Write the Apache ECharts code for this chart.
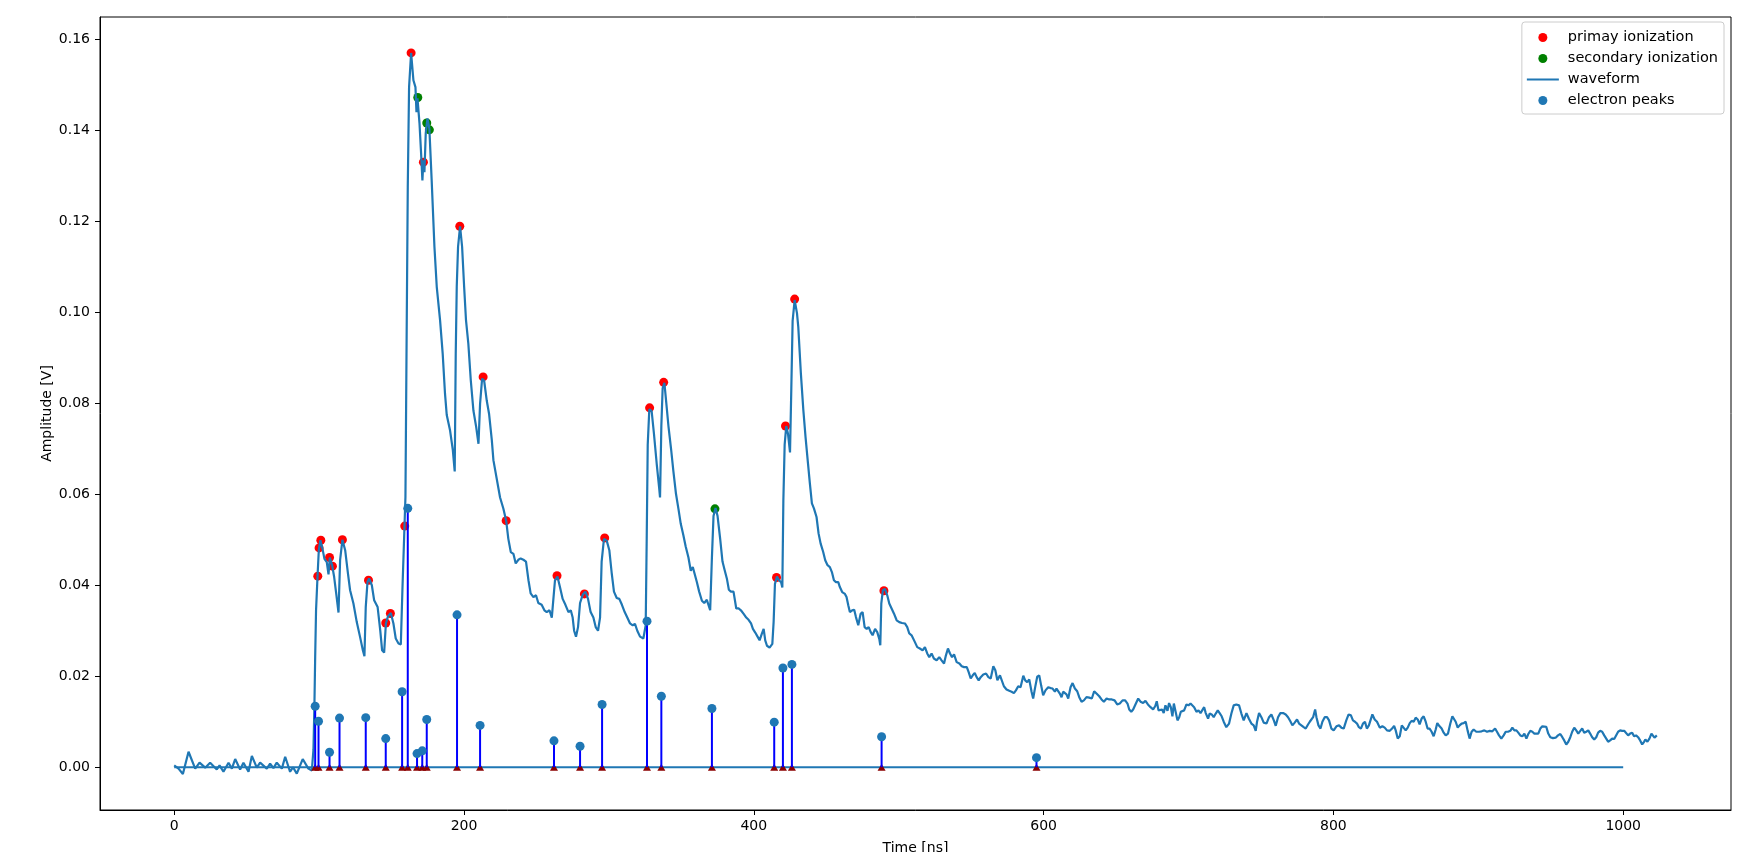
<!DOCTYPE html>
<html>
<head>
<meta charset="utf-8">
<script src="https://cdn.jsdelivr.net/npm/echarts@6.0.0/dist/echarts.min.js"></script>
<style>
html,body{margin:0;padding:0;background:#fff;}
#chart{width:1737px;height:852px;}
</style>
</head>
<body>
<div id="chart"></div>
<script>
// ---------------- DATA ----------------
const wfTime = [
0,3,6.0,9.9,14.5,17.5,21.4,24.8,29.4,31.3,34.0,37.5,39.8,42.1,45.5,47.8,51.3,53.6,57.0,59.3,63.9,66.2,68.5,70.8,74.3,76.6,80.0,82.0,84.6,88.7,92.6,
95.0,96.1,96.8,97.3,97.9,98.9,99.8,100.9,102.3,103.7,105.3,106.5,107.4,109.0,110.4,111.8,113.4,114.5,116.1,118.0,119.8,121.4,123.7,126.0,128.3,130.2,131.3,132.2,133.4,134.5,136.4,138.0,140.4,142.2,143.5,144.9,146.1,147.6,149.5,151.3,152.9,154.8,156.4,157.5,158.7,159.6,
160.5,161.2,162.1,163.5,165.1,166.5,167.2,167.9,169.3,170.4,171.3,172.0,172.7,173.6,174.8,176.1,177.7,179.6,181.2,183.5,185.3,186.9,188.1,190.4,192.3,193.6,194.3,195.0,195.9,197.3,198.7,200.1,201.4,203.0,204.7,206.5,208.4,210.0,211.1,212.5,213.9,215.7,217.3,219.2,220.3,
224.9,227.2,229.1,230.6,232.3,234.1,235.7,237.5,239.1,241.0,242.8,244.5,246.0,247.9,249.7,251.3,253.6,255.5,257.1,259.0,260.6,261.7,262.8,264.5,266.3,268.1,270.0,272.1,273.7,275.0,276.0,277.3,278.7,280.1,281.9,283.8,285.6,287.4,289.3,290.9,292.5,293.9,295.0,296.6,298.5,300.3,301.9,303.5,305.4,307.2,309.0,310.9,312.7,314.6,316.4,318.0,319.6,321.5,323.8,325.4,326.1,326.8,327.9,329.5,331.1,333.0,334.6,335.3,336.2,337.1,338.3,339.4,341.1,342.9,344.5,346.3,348.0,349.6,351.4,353.0,354.9,356.5,357.9,359.0,360.7,362.3,364.2,365.8,367.6,368.8,369.9,371.1,372.2,373.6,375.0,376.8,378.4,380.0,381.4,382.8,384.2,386.0,387.9,389.5,391.1,393.0,394.8,396.4,398.1,399.4,401.0,402.6,404.0,405.4,406.8,407.9,409.1,410.9,412.8,413.7,414.6,416.0,417.4,418.8,419.7,420.4,421.3,422.4,423.6,425.0,425.9,426.8,428.2,429.8,
430.7,432.5,434.2,435.7,437.4,438.7,440.1,441.5,443.3,444.7,446.1,447.9,449.3,450.9,452.5,453.9,455.3,456.7,458.3,459.4,461.0,462.9,464.0,465.2,466.3,467.9,469.3,470.5,472.1,473.7,475.1,476.5,477.9,479.3,480.7,482.0,483.7,485.2,486.6,487.3,488.0,489.1,490.5,492.1,493.5,495.1,496.7,498.6,500.4,502.3,504.3,505.9,507.3,508.9,510.1,511.2,512.8,514.6,516.5,518.1,519.7,521.1,522.7,524.3,526.2,528.0,529.6,531.3,532.6,534.0,535.4,536.8,538.2,540.0,541.9,543.5,545.1,547.0,548.3,549.7,551.1,552.5,553.8,555.2,556.6,558.4,560.3,561.9,563.5,565.3,566.7,568.1,569.9,
571.0,572.6,574.4,576.3,577.9,579.5,580.9,582.5,584.1,586.0,587.3,588.7,590.1,591.7,592.8,594.2,595.6,597.0,598.3,599.7,601.3,603.2,604.8,606.2,607.8,608.9,610.1,611.2,612.4,613.5,614.7,615.8,617.0,618.6,620.0,621.6,623.2,624.6,626.2,627.8,629.6,631.5,633.3,634.9,636.5,638.4,640.0,641.6,643.5,645.3,647.1,649.0,650.8,652.6,654.5,656.3,657.9,659.1,660.5,661.8,663.7,665.3,666.9,668.7,670.3,672.0,673.8,675.6,677.0,678.1,679.3,680.6,681.8,682.9,684.1,685.5,686.6,687.8,688.9,689.9,691.0,692.4,693.6,694.7,695.9,697.0,698.6,700.0,701.4,702.7,703.9,705.5,706.9,708.3,709.6,710.8,711.9,713.5,714.6,716.0,717.4,718.8,720.2,721.5,722.9,724.3,726.1,728.0,729.6,731.2,733.0,734.9,736.5,738.1,740.0,741.6,743.4,745.0,746.4,747.3,748.7,750.3,751.9,753.8,755.6,757.2,758.9,760.2,761.8,763.4,765.3,767.1,768.7,770.3,771.7,773.3,774.9,776.3,777.9,779.5,780.9,782.5,783.7,784.8,786.0,787.4,788.3,789.7,791.1,792.4,794.0,795.6,797.0,798.6,800.2,802.1,803.9,805.5,807.1,808.9,810.5,812.1,813.5,814.9,816.3,817.6,819.0,820.4,821.8,823.1,824.5,
826.9,828.5,830.1,832.0,833.8,835.4,837.0,838.9,840.5,841.9,843.0,844.4,845.8,847.2,848.5,849.9,851.3,852.7,854.0,855.4,856.8,858.2,859.5,860.9,862.3,863.7,865.0,866.4,867.8,869.2,870.6,871.7,873.3,874.7,876.1,877.5,879.1,880.7,882.1,883.2,884.4,885.8,887.1,888.5,889.9,891.3,892.6,894.0,895.4,896.8,898.6,900.5,902.3,904.2,906.0,907.9,909.7,911.6,912.9,914.3,915.9,917.5,918.9,920.5,922.1,923.5,924.9,926.3,927.6,929.0,930.4,931.8,933.2,934.5,935.9,937.3,938.7,940.0,941.4,942.8,944.2,945.5,946.9,948.3,949.7,951.5,953.4,955.0,956.6,958.0,959.3,960.7,962.1,963.5,964.8,966.2,967.6,969.0,970.4,971.7,973.1,974.5,975.9,977.2,978.6,980.0,981.4,982.7,984.1,985.5,986.9,988.3,989.6,991.0,992.4,993.8,995.1,996.5,997.9,999.3,1000.7,1002.0,1003.4,1004.8,1006.2,1007.5,1008.9,1010.3,1011.7,1013.1,1014.4,1015.3,1016.7,1018.1,1019.5,1020.4,1021.6,1023.2
];
const wfAmp = [
0.0004,-0.0003,-0.0015,0.0034,-0.0003,0.0010,-0.0001,0.0010,-0.0005,0.0004,-0.0010,0.0010,-0.0003,0.0018,-0.0005,0.0010,-0.0010,0.0025,-0.0001,0.0010,-0.0003,0.0008,-0.0002,0.0010,-0.0003,0.0023,-0.0010,0.0000,-0.0014,0.0018,-0.0003,
-0.0007,0.0038,0.0140,0.0242,0.0345,0.0418,0.0477,0.0499,0.0481,0.0458,0.0451,0.0424,0.0461,0.0444,0.0418,0.0382,0.0340,0.0455,0.0500,0.0477,0.0429,0.0389,0.0360,0.0319,0.0286,0.0257,0.0244,0.0352,0.0407,0.0415,0.0400,0.0367,0.0352,0.0301,0.0257,0.0252,0.0316,0.0332,0.0339,0.0316,0.0283,0.0272,0.0270,0.0389,0.0506,0.0594,
0.0982,0.1275,0.1495,0.1570,0.1510,0.1495,0.1440,0.1470,0.1415,0.1349,0.1290,0.1334,0.1308,0.1393,0.1426,0.1404,0.1290,0.1144,0.1056,0.0982,0.0909,0.0821,0.0774,0.0740,0.0697,0.0650,0.0909,0.1056,0.1144,0.1189,0.1144,0.1056,0.0982,0.0931,0.0850,0.0784,0.0748,0.0711,0.0799,0.0854,0.0850,0.0806,0.0777,0.0719,0.0675,
0.0593,0.0568,0.0542,0.0502,0.0473,0.0469,0.0448,0.0456,0.0459,0.0456,0.0452,0.0411,0.0382,0.0374,0.0378,0.0361,0.0357,0.0345,0.0341,0.0345,0.0329,0.0370,0.0411,0.0419,0.0395,0.0370,0.0357,0.0341,0.0345,0.0329,0.0300,0.0287,0.0308,0.0361,0.0379,0.0386,0.0370,0.0341,0.0329,0.0308,0.0300,0.0329,0.0452,0.0502,0.0498,0.0477,0.0428,0.0386,0.0372,0.0370,0.0357,0.0341,0.0329,0.0316,0.0312,0.0315,0.0300,0.0287,0.0283,0.0312,0.0502,0.0709,0.0787,0.0783,0.0733,0.0667,0.0617,0.0593,0.0750,0.0833,0.0845,0.0808,0.0750,0.0700,0.0651,0.0601,0.0568,0.0535,0.0510,0.0485,0.0461,0.0432,0.0440,0.0436,0.0407,0.0386,0.0366,0.0361,0.0368,0.0366,0.0345,0.0461,0.0552,0.0570,0.0552,0.0502,0.0452,0.0432,0.0415,0.0390,0.0386,0.0386,0.0349,0.0349,0.0345,0.0337,0.0329,0.0324,0.0316,0.0304,0.0296,0.0287,0.0279,0.0292,0.0304,0.0279,0.0267,0.0263,0.0271,0.0320,0.0403,0.0419,0.0411,0.0407,0.0395,0.0585,0.0709,0.0750,0.0733,0.0692,0.0833,0.0981,0.1027,0.0998,
0.0968,0.0865,0.0785,0.0726,0.0668,0.0624,0.0580,0.0569,0.0550,0.0514,0.0492,0.0473,0.0455,0.0444,0.0440,0.0429,0.0411,0.0407,0.0407,0.0396,0.0385,0.0381,0.0374,0.0356,0.0341,0.0345,0.0346,0.0330,0.0312,0.0337,0.0341,0.0308,0.0304,0.0308,0.0297,0.0290,0.0304,0.0297,0.0282,0.0268,0.0360,0.0389,0.0392,0.0378,0.0360,0.0349,0.0338,0.0323,0.0319,0.0317,0.0316,0.0308,0.0294,0.0290,0.0294,0.0275,0.0264,0.0261,0.0257,0.0264,0.0250,0.0242,0.0250,0.0239,0.0235,0.0242,0.0235,0.0228,0.0246,0.0261,0.0250,0.0242,0.0248,0.0231,0.0228,0.0222,0.0220,0.0220,0.0209,0.0195,0.0202,0.0207,0.0198,0.0191,0.0198,0.0204,0.0206,0.0198,0.0195,0.0222,0.0213,0.0191,0.0202,
0.0202,0.0178,0.0171,0.0168,0.0166,0.0163,0.0169,0.0178,0.0176,0.0201,0.0191,0.0187,0.0193,0.0166,0.0151,0.0176,0.0199,0.0202,0.0180,0.0158,0.0169,0.0176,0.0174,0.0173,0.0166,0.0173,0.0176,0.0162,0.0154,0.0166,0.0168,0.0160,0.0151,0.0176,0.0185,0.0173,0.0167,0.0154,0.0144,0.0147,0.0154,0.0153,0.0151,0.0167,0.0162,0.0156,0.0149,0.0144,0.0151,0.0149,0.0149,0.0147,0.0138,0.0140,0.0147,0.0147,0.0140,0.0127,0.0122,0.0127,0.0140,0.0151,0.0144,0.0141,0.0146,0.0138,0.0132,0.0127,0.0134,0.0145,0.0125,0.0122,0.0127,0.0119,0.0136,0.0124,0.0141,0.0132,0.0112,0.0140,0.0138,0.0103,0.0110,0.0122,0.0118,0.0125,0.0138,0.0136,0.0140,0.0141,0.0132,0.0122,0.0125,0.0119,0.0116,0.0132,0.0119,0.0107,0.0118,0.0116,0.0110,0.0118,0.0125,0.0119,0.0112,0.0100,0.0088,0.0096,0.0118,0.0136,0.0138,0.0136,0.0118,0.0103,0.0119,0.0107,0.0096,0.0092,0.0080,0.0100,0.0119,0.0110,0.0098,0.0096,0.0110,0.0116,0.0103,0.0091,0.0110,0.0119,0.0119,0.0116,0.0110,0.0101,0.0092,0.0098,0.0105,0.0096,0.0092,0.0088,0.0085,0.0094,0.0100,0.0098,0.0110,0.0127,0.0110,0.0092,0.0085,0.0100,0.0110,0.0110,0.0103,0.0085,0.0081,0.0090,0.0092,0.0087,0.0085,0.0103,0.0116,0.0114,0.0103,0.0100,0.0096,0.0088,0.0085,0.0096,0.0100,0.0085,0.0092,
0.0116,0.0105,0.0100,0.0087,0.0090,0.0087,0.0081,0.0080,0.0085,0.0091,0.0081,0.0063,0.0068,0.0092,0.0096,0.0081,0.0087,0.0097,0.0102,0.0100,0.0109,0.0105,0.0094,0.0107,0.0112,0.0100,0.0085,0.0085,0.0078,0.0068,0.0083,0.0097,0.0090,0.0085,0.0076,0.0070,0.0074,0.0096,0.0112,0.0116,0.0100,0.0087,0.0092,0.0096,0.0097,0.0100,0.0081,0.0063,0.0078,0.0083,0.0078,0.0078,0.0079,0.0081,0.0078,0.0080,0.0079,0.0085,0.0078,0.0070,0.0063,0.0070,0.0078,0.0078,0.0080,0.0087,0.0081,0.0081,0.0076,0.0070,0.0068,0.0074,0.0063,0.0073,0.0080,0.0078,0.0074,0.0070,0.0074,0.0085,0.0090,0.0092,0.0089,0.0074,0.0066,0.0064,0.0065,0.0070,0.0073,0.0066,0.0059,0.0050,0.0056,0.0066,0.0078,0.0087,0.0081,0.0074,0.0080,0.0085,0.0076,0.0078,0.0081,0.0074,0.0066,0.0061,0.0066,0.0076,0.0080,0.0078,0.0070,0.0063,0.0056,0.0059,0.0063,0.0062,0.0066,0.0078,0.0081,0.0080,0.0080,0.0076,0.0070,0.0074,0.0076,0.0068,0.0070,0.0066,0.0059,0.0050,0.0056,0.0061,0.0056,0.0063,0.0074,0.0070,0.0065,0.0070
];
const primaryTime = [99.1,100.0,101.2,107.2,109.2,116.1,134.1,146.0,149.2,159.1,163.5,172.0,197.1,213.2,229.1,264.2,283.1,297.1,328.1,337.8,415.7,421.9,428.2,489.8];
const primaryAmp  = [0.0420,0.0482,0.0499,0.0461,0.0442,0.0500,0.0411,0.0317,0.0338,0.0530,0.1570,0.1330,0.1189,0.0858,0.0542,0.0421,0.0381,0.0504,0.0790,0.0846,0.0417,0.0750,0.1029,0.0388];
const secondaryTime = [168.1,174.3,176.1,373.2];
const secondaryAmp  = [0.1472,0.1416,0.1401,0.0568];
const peakTime = [97.3,99.6,107.2,114.1,132.2,146.0,157.3,161.2,167.6,171.2,174.3,195.2,211.1,262.1,280.1,295.3,326.3,336.2,371.1,414.1,420.1,426.3,488.2,595.1];
const peakAmp  = [0.0134,0.0101,0.0033,0.0108,0.0109,0.0063,0.0166,0.0569,0.0030,0.0036,0.0105,0.0335,0.0092,0.0058,0.0046,0.0138,0.0321,0.0156,0.0129,0.0099,0.0218,0.0226,0.0067,0.0021];
const baselineRange = [0, 1000];
const xTicks = [0, 200, 400, 600, 800, 1000];
const yTicks = [0.00, 0.02, 0.04, 0.06, 0.08, 0.10, 0.12, 0.14, 0.16];

// ---------------- CHART ----------------
const zip = (a, b) => a.map((v, i) => [v, b[i]]);
const FONT = 'DejaVu Sans';
const chart = echarts.init(document.getElementById('chart'), null, {renderer: 'canvas'});
const option = {
  animation: false,
  backgroundColor: '#fff',
  textStyle: {fontFamily: FONT},
  grid: {left: 100, right: 6, top: 17, bottom: 42, containLabel: false, outerBoundsMode: 'none',
         show: true, borderColor: '#000', borderWidth: 1, backgroundColor: 'transparent'},
  legend: {
    orient: 'vertical', right: 13, top: 22,
    data: [
      {name: 'primay ionization'},
      {name: 'secondary ionization'},
      {name: 'waveform', icon: 'path://M0,0 L0.01,0 L0.01,0.01 Z M0,3.45 L32,3.45 L32,5.55 L0,5.55 Z M0,9 L0.01,9 L0.01,8.99 Z'},
      {name: 'electron peaks'}
    ],
    itemWidth: 32, itemHeight: 9, itemGap: 6,
    padding: [8, 6, 6, 5],
    borderColor: '#cccccc', borderWidth: 1, borderRadius: 3,
    backgroundColor: 'rgba(255,255,255,0.8)',
    textStyle: {fontFamily: FONT, fontSize: 14.5, color: '#000', padding: [0, 0, 0, 4]}
  },
  xAxis: {
    type: 'value', min: -51.2, max: 1074.4,
    name: 'Time [ns]', nameLocation: 'middle', nameGap: 31,
    nameTextStyle: {fontFamily: FONT, fontSize: 14, color: '#000'},
    axisLine: {show: true, onZero: false, lineStyle: {color: '#000', width: 1}},
    axisTick: {show: true, length: 5, lineStyle: {color: '#000', width: 1}, customValues: xTicks},
    axisLabel: {fontFamily: FONT, fontSize: 14, color: '#000', margin: 9, customValues: xTicks,
                formatter: v => String(Math.round(v))},
    splitLine: {show: false}
  },
  yAxis: {
    type: 'value', min: -0.0094, max: 0.1649,
    name: 'Amplitude [V]', nameLocation: 'middle', nameGap: 46, nameRotate: 90, nameMoveOverlap: false,
    nameTextStyle: {fontFamily: FONT, fontSize: 14, color: '#000'},
    axisLine: {show: true, onZero: false, lineStyle: {color: '#000', width: 1}},
    axisTick: {show: true, length: 5, lineStyle: {color: '#000', width: 1}, customValues: yTicks},
    axisLabel: {fontFamily: FONT, fontSize: 14, color: '#000', margin: 10, customValues: yTicks,
                formatter: v => v.toFixed(2)},
    splitLine: {show: false}
  },
  series: [
    {name: 'primay ionization', type: 'scatter', data: zip(primaryTime, primaryAmp),
     symbol: 'circle', symbolSize: 9, itemStyle: {color: '#ff0000', opacity: 1}, z: 2},
    {name: 'secondary ionization', type: 'scatter', data: zip(secondaryTime, secondaryAmp),
     symbol: 'circle', symbolSize: 9, itemStyle: {color: '#008000', opacity: 1}, z: 2},
    {name: 'waveform', type: 'line', data: zip(wfTime, wfAmp), symbol: 'none', showSymbol: false,
     lineStyle: {color: '#1f77b4', width: 2.2}, itemStyle: {color: '#1f77b4'}, z: 3},
    {name: 'baseline', type: 'line', data: baselineRange.map(t => [t, 0]), symbol: 'none',
     lineStyle: {color: '#1f77b4', width: 2}, z: 4},
    {name: 'base', type: 'scatter', data: peakTime.map(t => [t, 0]), symbol: 'triangle',
     symbolSize: [8, 7], itemStyle: {color: '#8b0000', opacity: 1}, z: 4.5},
    {name: 'stems', type: 'custom', data: zip(peakTime, peakAmp), encode: {x: 0, y: 1}, z: 5,
     renderItem: (params, api) => {
       const p0 = api.coord([api.value(0), 0]);
       const p1 = api.coord([api.value(0), api.value(1)]);
       return {type: 'line', shape: {x1: p0[0], y1: p0[1], x2: p1[0], y2: p1[1]},
               style: {stroke: '#0000ff', lineWidth: 2}};
     }},
    {name: 'electron peaks', type: 'scatter', data: zip(peakTime, peakAmp),
     symbol: 'circle', symbolSize: 9, itemStyle: {color: '#1f77b4', opacity: 1}, z: 6}
  ]
};
chart.setOption(option);
</script>
</body>
</html>
